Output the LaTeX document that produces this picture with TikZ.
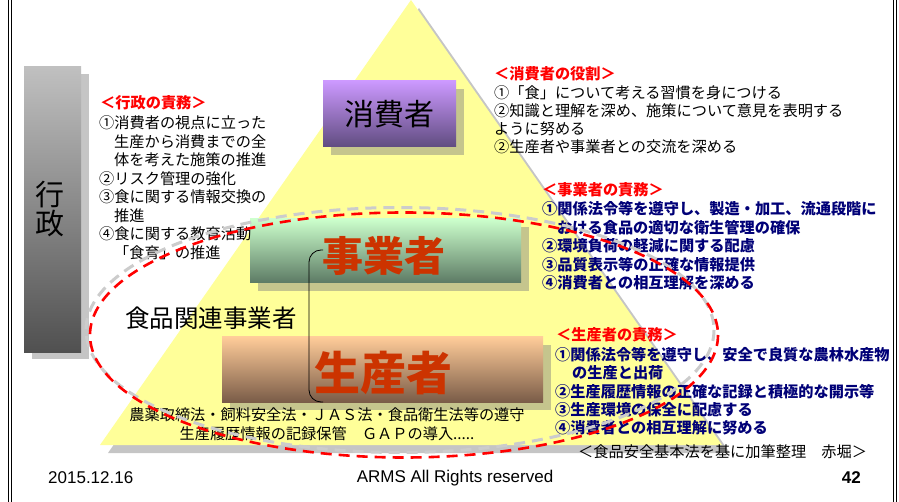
\documentclass[tikz,border=0pt]{standalone}
\usepackage{fontspec}
\setmainfont{Liberation Sans}
\newfontfamily\jp{Noto Sans CJK JP}
\definecolor{triyellow}{HTML}{FFFF99}
\definecolor{navyt}{HTML}{000077}
\definecolor{redt}{HTML}{FF0000}
\definecolor{bigred}{HTML}{CC3300}
\tikzset{
  shadowc/.style={fill=gray, fill opacity=0.45},
  boxc/.style={draw=none, inner sep=0pt},
  jt/.style={inner sep=0pt, anchor=west, font=\jp\fontsize{15.2}{18}\selectfont},
  ttl/.style={jt, text=redt, font=\jp\bfseries\fontsize{15.2}{18}\selectfont},
  nv/.style={jt, text=navyt, font=\jp\bfseries\fontsize{15.2}{18}\selectfont},
  ell/.style={line width=2.6pt, dash pattern=on 11pt off 7pt},
  frameln/.style={line width=1pt, black}
}
\begin{document}
\begin{tikzpicture}[x=1pt,y=-1pt]
\useasboundingbox (0,0) rectangle (899,502);
\fill[white] (0,0) rectangle (899,502);
% slide frame
\draw[frameln] (8,0) -- (8,502) (11,0) -- (11,502) (893,0) -- (893,502) (896,0) -- (896,502);
% pyramid
\fill[shadowc] (419,8) -- (730,453) -- (108,453) -- cycle;
\fill[triyellow] (411,0) -- (722,445) -- (100,445) -- cycle;
% box shadows
\fill[shadowc] (331,89) rectangle (464,155);
\fill[shadowc] (32,74) rectangle (89,359);
\fill[shadowc] (258,227) rectangle (529,291);
\fill[shadowc] (230,345) rectangle (551,410);
% boxes
\node[boxc, minimum width=133, minimum height=66, top color={rgb,255:red,204;green,153;blue,255}, bottom color={rgb,255:red,96;green,76;blue,128}] (cons) at (389.5,114) {};
\node[boxc, minimum width=57, minimum height=285, top color={rgb,255:red,192;green,192;blue,192}, bottom color={rgb,255:red,80;green,80;blue,80}] (gyo) at (52.5,209.5) {};
\node[boxc, minimum width=271, minimum height=64, top color={rgb,255:red,204;green,255;blue,204}, bottom color={rgb,255:red,92;green,122;blue,100}] (jig) at (385.5,251) {};
\node[boxc, minimum width=321, minimum height=65, top color={rgb,255:red,255;green,204;blue,153}, bottom color={rgb,255:red,122;green,92;blue,72}] (sei) at (382.5,369.5) {};
% big labels
\node[inner sep=0pt, font=\jp\fontsize{30}{30}\selectfont] (consT) at (389,114) {消費者};
\node[inner sep=0pt, align=center, font=\jp\fontsize{29}{29}\selectfont] (gyoT) at (50,209) {行\\政};
\node[inner sep=0pt, text=bigred, font=\jp\bfseries\fontsize{41}{41}\selectfont] (jigT) at (384,256) {事業者};
\node[inner sep=0pt, text=bigred, font=\jp\bfseries\fontsize{46}{46}\selectfont] (seiT) at (383,373) {生産者};
\node[inner sep=0pt, font=\jp\fontsize{24.5}{25}\selectfont] (shoku) at (211,318) {食品関連事業者};
% bracket
\coordinate (bt) at (323,250);
\coordinate (bb) at (323,402);
\draw[line width=0.8pt, rounded corners=12pt] (bt) -- (309,250) -- (309,402) -- (bb);
% administration duties
\node[ttl] (g0) at (100,103) {＜行政の責務＞};
\node[jt] (g1) at (99,123) {①消費者の視点に立った};
\node[jt] (g2) at (114,141.6) {生産から消費までの全};
\node[jt] (g3) at (114,160) {体を考えた施策の推進};
\node[jt] (g4) at (99,178.5) {②リスク管理の強化};
\node[jt] (g5) at (99,197) {③食に関する情報交換の};
\node[jt] (g6) at (114,215.5) {推進};
\node[jt] (g7) at (99,234) {④食に関する教育活動};
\node[jt] (g8) at (114,253) {「食育」の推進};
% consumer role
\node[ttl] (c0) at (494,74) {＜消費者の役割＞};
\node[jt] (c1) at (494,93) {①「食」について考える習慣を身につける};
\node[jt] (c2) at (494,111) {②知識と理解を深め、施策について意見を表明する};
\node[jt] (c3) at (494,129) {ように努める};
\node[jt] (c4) at (494,147) {②生産者や事業者との交流を深める};
% business duties
\node[ttl] (j0) at (542,190) {＜事業者の責務＞};
\node[nv] (j1) at (542,209) {①関係法令等を遵守し、製造・加工、流通段階に};
\node[nv] (j2) at (557,228) {おける食品の適切な衛生管理の確保};
\node[nv] (j3) at (542,246) {②環境負荷の軽減に関する配慮};
\node[nv] (j4) at (542,265) {③品質表示等の正確な情報提供};
\node[nv] (j5) at (542,283) {④消費者との相互理解を深める};
% producer duties
\node[ttl] (s0) at (556,335) {＜生産者の責務＞};
\node[nv] (s1) at (555,355) {①関係法令等を遵守し、安全で良質な農林水産物};
\node[nv] (s2) at (572,373) {の生産と出荷};
\node[nv] (s3) at (555,392) {②生産履歴情報の正確な記録と積極的な開示等};
\node[nv] (s4) at (555,410) {③生産環境の保全に配慮する};
\node[nv] (s5) at (555,428) {④消費者との相互理解に努める};
% bottom laws
\node[jt, anchor=center] (law1) at (327,415) {農薬取締法・飼料安全法・ＪＡＳ法・食品衛生法等の遵守};
\node[jt, anchor=center] (law2) at (327,434) {生産履歴情報の記録保管　ＧＡＰの導入.....};
% source
\node[jt] (src) at (578,452) {＜食品安全基本法を基に加筆整理　赤堀＞};
% footer
\node[inner sep=0pt, anchor=west, font=\fontsize{17}{20}\selectfont] (date) at (48,478) {2015.12.16};
\node[inner sep=0pt, font=\fontsize{17}{20}\selectfont] (copy) at (455,478) {ARMS All Rights reserved};
\node[inner sep=0pt, anchor=east, font=\bfseries\fontsize{17}{20}\selectfont] (pg) at (861,478) {42};
% dashed ellipse with its shadow
\draw[ell, gray!40, line width=3pt] (400,330) ellipse [x radius=314, y radius=122.5];
\draw[ell, red] (404,335) ellipse [x radius=314, y radius=122.5];
\end{tikzpicture}
\end{document}
